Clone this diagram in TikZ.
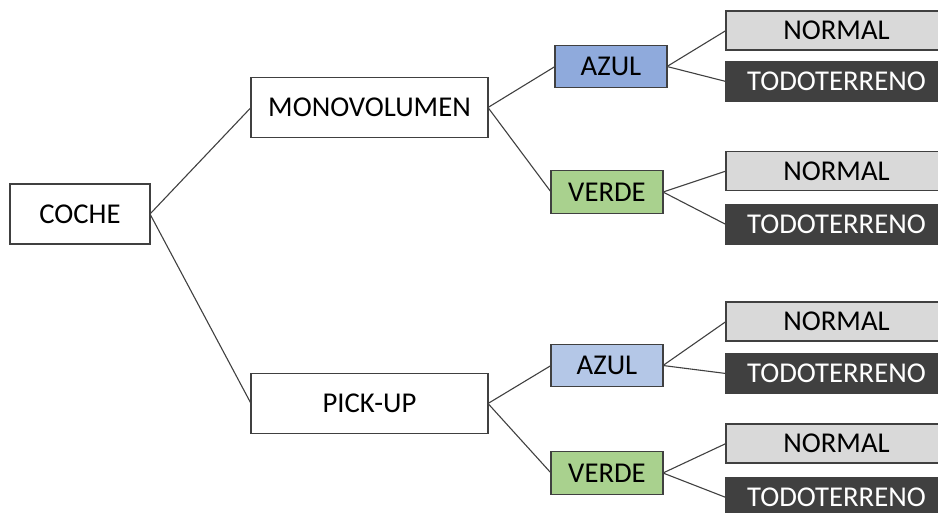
\documentclass[tikz,border=0pt]{standalone}
\usepackage{fontspec}
\setmainfont{Carlito}
\definecolor{edgegray}{HTML}{404040}
\definecolor{azulA}{HTML}{8FAADC}
\definecolor{azulB}{HTML}{B4C7E7}
\definecolor{verdeF}{HTML}{A9D18E}
\definecolor{leafgray}{HTML}{D9D9D9}
\definecolor{leafdark}{HTML}{404040}
\begin{document}
\begin{tikzpicture}[x=1pt,y=-1pt,
  box/.style={draw=edgegray, line width=1.1pt, rectangle, inner sep=0pt, outer sep=0pt,
    font=\fontsize{28.7}{32}\selectfont, text=black},
  wide/.style={box, fill=white, minimum width=237pt, minimum height=60pt},
  colorbox/.style={box, minimum width=112pt, minimum height=42.5pt},
  leaf/.style={box, minimum width=221pt, minimum height=39pt},
  normalbox/.style={leaf, fill=leafgray},
  offroad/.style={leaf, fill=leafdark, text=white},
  link/.style={draw=edgegray, line width=1.1pt}]
  \useasboundingbox (0,0) rectangle (938,512);
  % root
  \node[box, fill=white, minimum width=140pt, minimum height=60pt] (coche) at (80,214) {COCHE};
  % body types
  \node[wide] (mono) at (369.5,107.5) {MONOVOLUMEN};
  \node[wide] (pick) at (369.5,403.5) {PICK-UP};
  % colours
  \node[colorbox, fill=azulA] (azul1) at (611,66.5) {AZUL};
  \node[colorbox, fill=verdeF] (verde1) at (607,192) {VERDE};
  \node[colorbox, fill=azulB] (azul2) at (607,365.5) {AZUL};
  \node[colorbox, fill=verdeF] (verde2) at (607,473) {VERDE};
  % variants
  \node[normalbox] (n1) at (836.5,30.5) {NORMAL};
  \node[offroad]   (t1) at (836.5,81.5) {TODOTERRENO};
  \node[normalbox] (n2) at (836.5,171) {NORMAL};
  \node[offroad]   (t2) at (836.5,224.5) {TODOTERRENO};
  \node[normalbox] (n3) at (836.5,321.5) {NORMAL};
  \node[offroad]   (t3) at (836.5,373.5) {TODOTERRENO};
  \node[normalbox] (n4) at (836.5,443.5) {NORMAL};
  \node[offroad]   (t4) at (836.5,497.5) {TODOTERRENO};
  % connectors
  \draw[link] (coche.east) -- (mono.west);
  \draw[link] (coche.east) -- (pick.west);
  \draw[link] (mono.east) -- (azul1.west);
  \draw[link] (mono.east) -- (verde1.west);
  \draw[link] (pick.east) -- (azul2.west);
  \draw[link] (pick.east) -- (verde2.west);
  \draw[link] (azul1.east) -- (n1.west);
  \draw[link] (azul1.east) -- (t1.west);
  \draw[link] (verde1.east) -- (n2.west);
  \draw[link] (verde1.east) -- (t2.west);
  \draw[link] (azul2.east) -- (n3.west);
  \draw[link] (azul2.east) -- (t3.west);
  \draw[link] (verde2.east) -- (n4.west);
  \draw[link] (verde2.east) -- (t4.west);
\end{tikzpicture}
\end{document}
